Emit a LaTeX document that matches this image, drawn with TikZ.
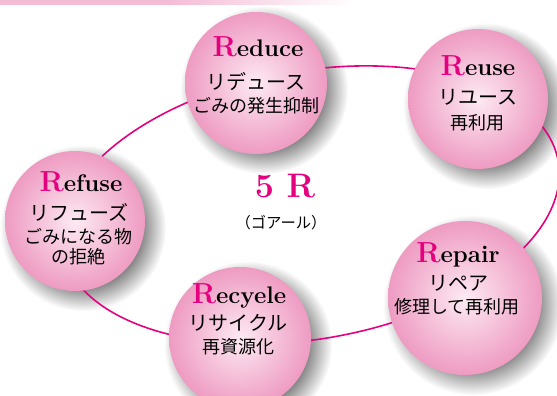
\documentclass[tikz,border=0pt]{standalone}
\usepackage{fontspec}
\newfontfamily\jpfont{Noto Sans CJK JP}
\usetikzlibrary{fadings}
\definecolor{rmag}{HTML}{E4007F}
\definecolor{ballin}{HTML}{FDEAF3}
\definecolor{ballout}{HTML}{EE9BC2}
\definecolor{bandpink}{HTML}{F5BCD6}
\pgfdeclareradialshading{softshade}{\pgfpointorigin}{color(0bp)=(pgftransparent!0); color(14bp)=(pgftransparent!0); color(25bp)=(pgftransparent!100); color(50bp)=(pgftransparent!100)}
\pgfdeclarefading{softedge}{\pgfuseshading{softshade}}
\newcommand{\rword}[1]{{\fontsize{29}{29}\selectfont\textcolor{rmag}{R}}#1}
\begin{document}
\begin{tikzpicture}[x=1pt,y=1pt,
  ball/.style={circle,inner sep=0pt,inner color=ballin,outer color=ballout},
  shadowdisc/.style={fill=black!80,opacity=.9,path fading=softedge},
  ring/.style={draw=rmag,line width=1.6pt},
  ttl/.style={anchor=base,inner sep=0pt,font=\fontsize{24}{24}\selectfont\bfseries},
  kana/.style={inner sep=0pt,font=\fontsize{20}{20}\selectfont\jpfont},
  kanji/.style={inner sep=0pt,font=\fontsize{18}{18}\selectfont\jpfont}]
\useasboundingbox (0,0) rectangle (557,396);
%% band at the top
\fill [bandpink] (0,391) rectangle (170,396);
\shade [left color=bandpink,right color=white] (170,391) rectangle (355,396);
%% centres of the balls
\coordinate (c_reduce) at (256,313);
\coordinate (c_reuse) at (478,297);
\coordinate (c_refuse) at (75,175);
\coordinate (c_repair) at (465,98);
\coordinate (c_recycle) at (240,58);
%% shadows
\fill [shadowdisc] ([shift={(8,-7)}]c_reduce) circle [radius=84pt];
\fill [shadowdisc] ([shift={(8,-7)}]c_reuse) circle [radius=83pt];
\fill [shadowdisc] ([shift={(8,-7)}]c_refuse) circle [radius=83pt];
\fill [shadowdisc] ([shift={(8,-7)}]c_repair) circle [radius=90pt];
\fill [shadowdisc] ([shift={(8,-7)}]c_recycle) circle [radius=84pt];
%% the ring
\coordinate (ring_c) at (310,191);
\draw [ring,rotate around={10:(ring_c)}] (ring_c) ellipse [x radius=252pt,y radius=134pt];
%% balls
\node (ball_reduce) at (c_reduce) [ball,minimum size=142pt] {};
\node (ball_reuse) at (c_reuse) [ball,minimum size=140pt] {};
\node (ball_refuse) at (c_refuse) [ball,minimum size=140pt] {};
\node (ball_repair) at (c_repair) [ball,minimum size=154pt] {};
\node (ball_recycle) at (c_recycle) [ball,minimum size=142pt] {};
%% texts
\node (t_reduce_1) at (258,339) [ttl] {\rword{educe}};
\node (t_reduce_2) at (256,314) [kana] {リデュース};
\node (t_reduce_3) at (256,290) [kanji] {ごみの発生抑制};
%
\node (t_reuse_1) at (478,320) [ttl] {\rword{euse}};
\node (t_reuse_2) at (478,299) [kana] {リユース};
\node (t_reuse_3) at (477,273) [kanji] {再利用};
%
\node (t_refuse_1) at (81,204) [ttl] {\rword{efuse}};
\node (t_refuse_2) at (79,184) [kana] {リフューズ};
\node (t_refuse_3) at (78,159) [kanji] {ごみになる物};
\node (t_refuse_4) at (78,139) [kanji] {の拒絶};
%
\node (t_repair_1) at (458,133) [ttl] {\rword{epair}};
\node (t_repair_2) at (458,113) [kana] {リペア};
\node (t_repair_3) at (457,89) [kanji] {修理して再利用};
%
\node (t_recycle_1) at (239,92) [ttl] {\rword{ecyele}};
\node (t_recycle_2) at (238,73) [kana] {リサイクル};
\node (t_recycle_3) at (238,49) [kanji] {再資源化};
%
\node (t_five_r) at (285,198) [anchor=base,inner sep=0pt,text=rmag,font=\fontsize{34}{34}\selectfont\bfseries] {5 R};
\node (t_goal) at (281,173) [inner sep=0pt,font=\fontsize{15.3}{16}\selectfont\jpfont] {（ゴアール）};
%
\end{tikzpicture}
\end{document}
